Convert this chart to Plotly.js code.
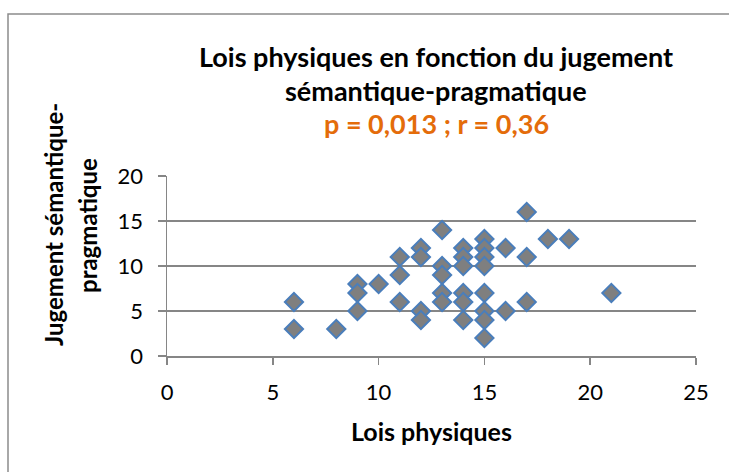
<!DOCTYPE html>
<html>
<head>
<meta charset="utf-8">
<script src="https://cdn.plot.ly/plotly-3.0.1.min.js"></script>
<style>
html,body{margin:0;padding:0;background:#fff;}
#chart{width:729px;height:472px;}
</style>
</head>
<body>
<div id="chart"></div>
<script>
// Data
const loisPhysiques = [6, 6, 8, 9, 9, 9, 10, 11, 11, 11, 12, 12, 12, 12, 13, 13, 13, 13, 13, 14, 14, 14, 14, 14, 14, 15, 15, 15, 15, 15, 15, 15, 15, 16, 16, 17, 17, 17, 18, 19, 21];
const jugement =      [6, 3, 3, 8, 7, 5, 8, 11, 9, 6, 12, 11, 5, 4, 14, 10, 9, 7, 6, 12, 11, 10, 7, 6, 4, 13, 12, 11, 10, 7, 5, 4, 2, 12, 5, 16, 11, 6, 13, 13, 7];
const xTicks = [0, 5, 10, 15, 20, 25];
const yTicks = [0, 5, 10, 15, 20];
const titleLine1 = "Lois physiques en fonction du jugement";
const titleLine2 = "sémantique-pragmatique";
const titleLine3 = "p = 0,013 ; r = 0,36";
const xTitle = "Lois physiques";
const yTitle1 = "Jugement sémantique-";
const yTitle2 = "pragmatique";

const W = 729, H = 472;
const L = 167, R = 33, T = 176, B = 116;
const pw = W - L - R, ph = H - T - B;
const px = x => (x - L) / pw;
const py = y => (H - B - y) / ph;

const FONT = "Lato, 'Open Sans', sans-serif";
const axisColor = "#868686";

const trace = {
  type: "scatter",
  mode: "markers",
  x: loisPhysiques,
  y: jugement,
  marker: {
    symbol: "diamond",
    size: 14,
    color: "#7f7f7f",
    line: {color: "#4a7ebb", width: 2}
  },
  hoverinfo: "x+y",
  cliponaxis: false
};

const layout = {
  width: W, height: H,
  margin: {l: L, r: R, t: T, b: B, pad: 0},
  paper_bgcolor: "#ffffff",
  plot_bgcolor: "#ffffff",
  showlegend: false,
  font: {family: FONT, color: "#000", size: 22},
  xaxis: {
    range: [0, 25],
    tickvals: xTicks,
    ticktext: xTicks.map(String),
    showgrid: false,
    zeroline: false,
    showline: true,
    linecolor: axisColor,
    linewidth: 1.5,
    ticks: "outside",
    ticklen: 7,
    tickwidth: 1.5,
    tickcolor: axisColor,
    ticklabelstandoff: 9,
    tickfont: {family: FONT, size: 22, color: "#000"},
    automargin: false,
    fixedrange: true
  },
  yaxis: {
    range: [0, 20],
    tickvals: yTicks,
    ticktext: yTicks.map(String),
    showgrid: true,
    gridcolor: axisColor,
    gridwidth: 1.5,
    zeroline: false,
    showline: true,
    linecolor: axisColor,
    linewidth: 1.5,
    ticks: "outside",
    ticklen: 8,
    tickwidth: 1.5,
    tickcolor: axisColor,
    ticklabelstandoff: 10,
    tickfont: {family: FONT, size: 22, color: "#000"},
    automargin: false,
    fixedrange: true
  },
  shapes: [
    {type: "rect", xref: "paper", yref: "paper",
     x0: px(8), x1: px(760), y0: py(520), y1: py(14),
     line: {color: "#8c8c8c", width: 1.5}, fillcolor: "rgba(0,0,0,0)", layer: "below"}
  ],
  annotations: [
    {text: "<b>" + titleLine1 + "</b>", xref: "paper", yref: "paper", x: px(436), y: py(57),
     xanchor: "center", yanchor: "middle", showarrow: false, font: {family: FONT, size: 27, color: "#000"}},
    {text: "<b>" + titleLine2 + "</b>", xref: "paper", yref: "paper", x: px(436), y: py(91),
     xanchor: "center", yanchor: "middle", showarrow: false, font: {family: FONT, size: 27, color: "#000"}},
    {text: "<b>" + titleLine3 + "</b>", xref: "paper", yref: "paper", x: px(436), y: py(124),
     xanchor: "center", yanchor: "middle", showarrow: false, font: {family: FONT, size: 27, color: "#e46c0a"}},
    {text: "<b>" + xTitle + "</b>", xref: "paper", yref: "paper", x: px(431), y: py(431),
     xanchor: "center", yanchor: "middle", showarrow: false, font: {family: FONT, size: 25, color: "#000"}},
    {text: "<b>" + yTitle1 + "</b>", xref: "paper", yref: "paper", x: px(53), y: py(225),
     xanchor: "center", yanchor: "middle", textangle: -90, showarrow: false, font: {family: FONT, size: 24, color: "#000"}},
    {text: "<b>" + yTitle2 + "</b>", xref: "paper", yref: "paper", x: px(87), y: py(226),
     xanchor: "center", yanchor: "middle", textangle: -90, showarrow: false, font: {family: FONT, size: 24, color: "#000"}}
  ]
};

Plotly.newPlot("chart", [trace], layout, {displayModeBar: false, staticPlot: true});
</script>
</body>
</html>
